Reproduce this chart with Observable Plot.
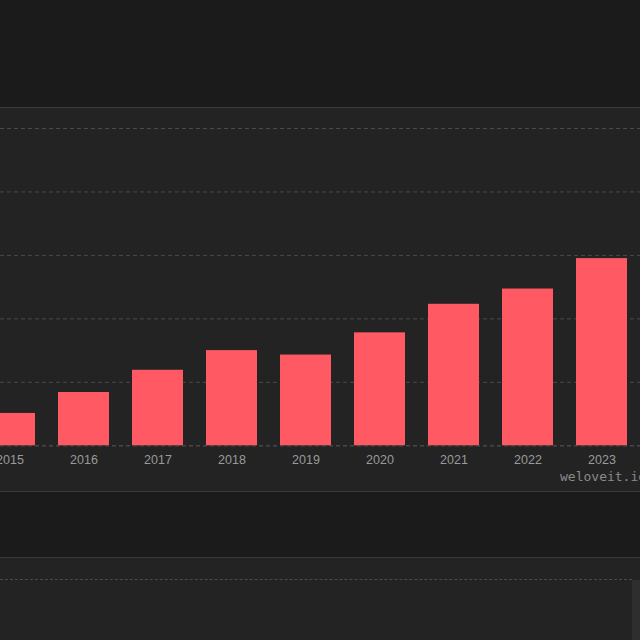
<!DOCTYPE html>
<html>
<head>
<meta charset="utf-8">
<script src="https://cdn.jsdelivr.net/npm/d3@7"></script>
<script src="https://cdn.jsdelivr.net/npm/@observablehq/plot@0.6"></script>
<style>
  html, body { margin: 0; padding: 0; background: #1b1b1b; width: 640px; height: 640px; overflow: hidden; }
  #top { height: 107px; background: #1b1b1b; }
  #panel { position: relative; height: 383px; background: #232323; border-top: 1px solid #3a3a3a; border-bottom: 1px solid #3a3a3a; overflow: hidden; }
  #gap { height: 65px; background: #1b1b1b; }
  #panel2 { position: relative; height: 200px; background: #232323; border-top: 1px solid #3a3a3a; overflow: hidden; }
  #grid2 { position: absolute; left: 0; right: 8px; top: 21px; border-top: 1px dashed #4a4a4a; }
  #strip { position: absolute; left: 632px; top: 22px; width: 8px; height: 200px; background: #2e2e2e; }
  #mark { position: absolute; left: 560px; top: 361px; font: 13px "DejaVu Sans Mono", monospace; color: #8a8a8a; white-space: nowrap; }
  svg { max-width: none !important; }
</style>
</head>
<body>
<div id="top"></div>
<div id="panel"><div id="chart"></div><div id="mark">weloveit.io</div></div>
<div id="gap"></div>
<div id="panel2"><div id="grid2"></div><div id="strip"></div></div>
<script>
const years = ["2015", "2016", "2017", "2018", "2019", "2020", "2021", "2022", "2023"];
const values = [5.1, 8.4, 11.9, 15.0, 14.3, 17.8, 22.3, 24.7, 29.5];
const gridTicks = [0, 10, 20, 30, 40, 50];

const data = years.map((year, i) => ({year, value: values[i]}));

const chart = Plot.plot({
  width: 640,
  height: 383,
  marginTop: 20,
  marginBottom: 45.7,
  marginLeft: 0,
  marginRight: 0,
  style: { background: "transparent", fontFamily: "'Liberation Sans', Arial, sans-serif", overflow: "hidden" },
  x: { domain: years, range: [-39.1, 651.1], padding: 0.31 },
  y: { domain: [0, 50] },
  marks: [
    Plot.gridY(gridTicks, { stroke: "#4a4a4a", strokeOpacity: 1, strokeDasharray: "4,3" }),
    Plot.barY(data, { x: "year", y: "value", fill: "#ff5a64" }),
    Plot.ruleY([0], { stroke: "#4a4a4a", strokeDasharray: "4,3" }),
    Plot.axisX({ tickSize: 0, tickPadding: 9, label: null, fill: "#9a9a9a", fontSize: 12.5 }),
    Plot.axisY({ ticks: [], label: null })
  ]
});
document.getElementById("chart").appendChild(chart);
</script>
</body>
</html>
